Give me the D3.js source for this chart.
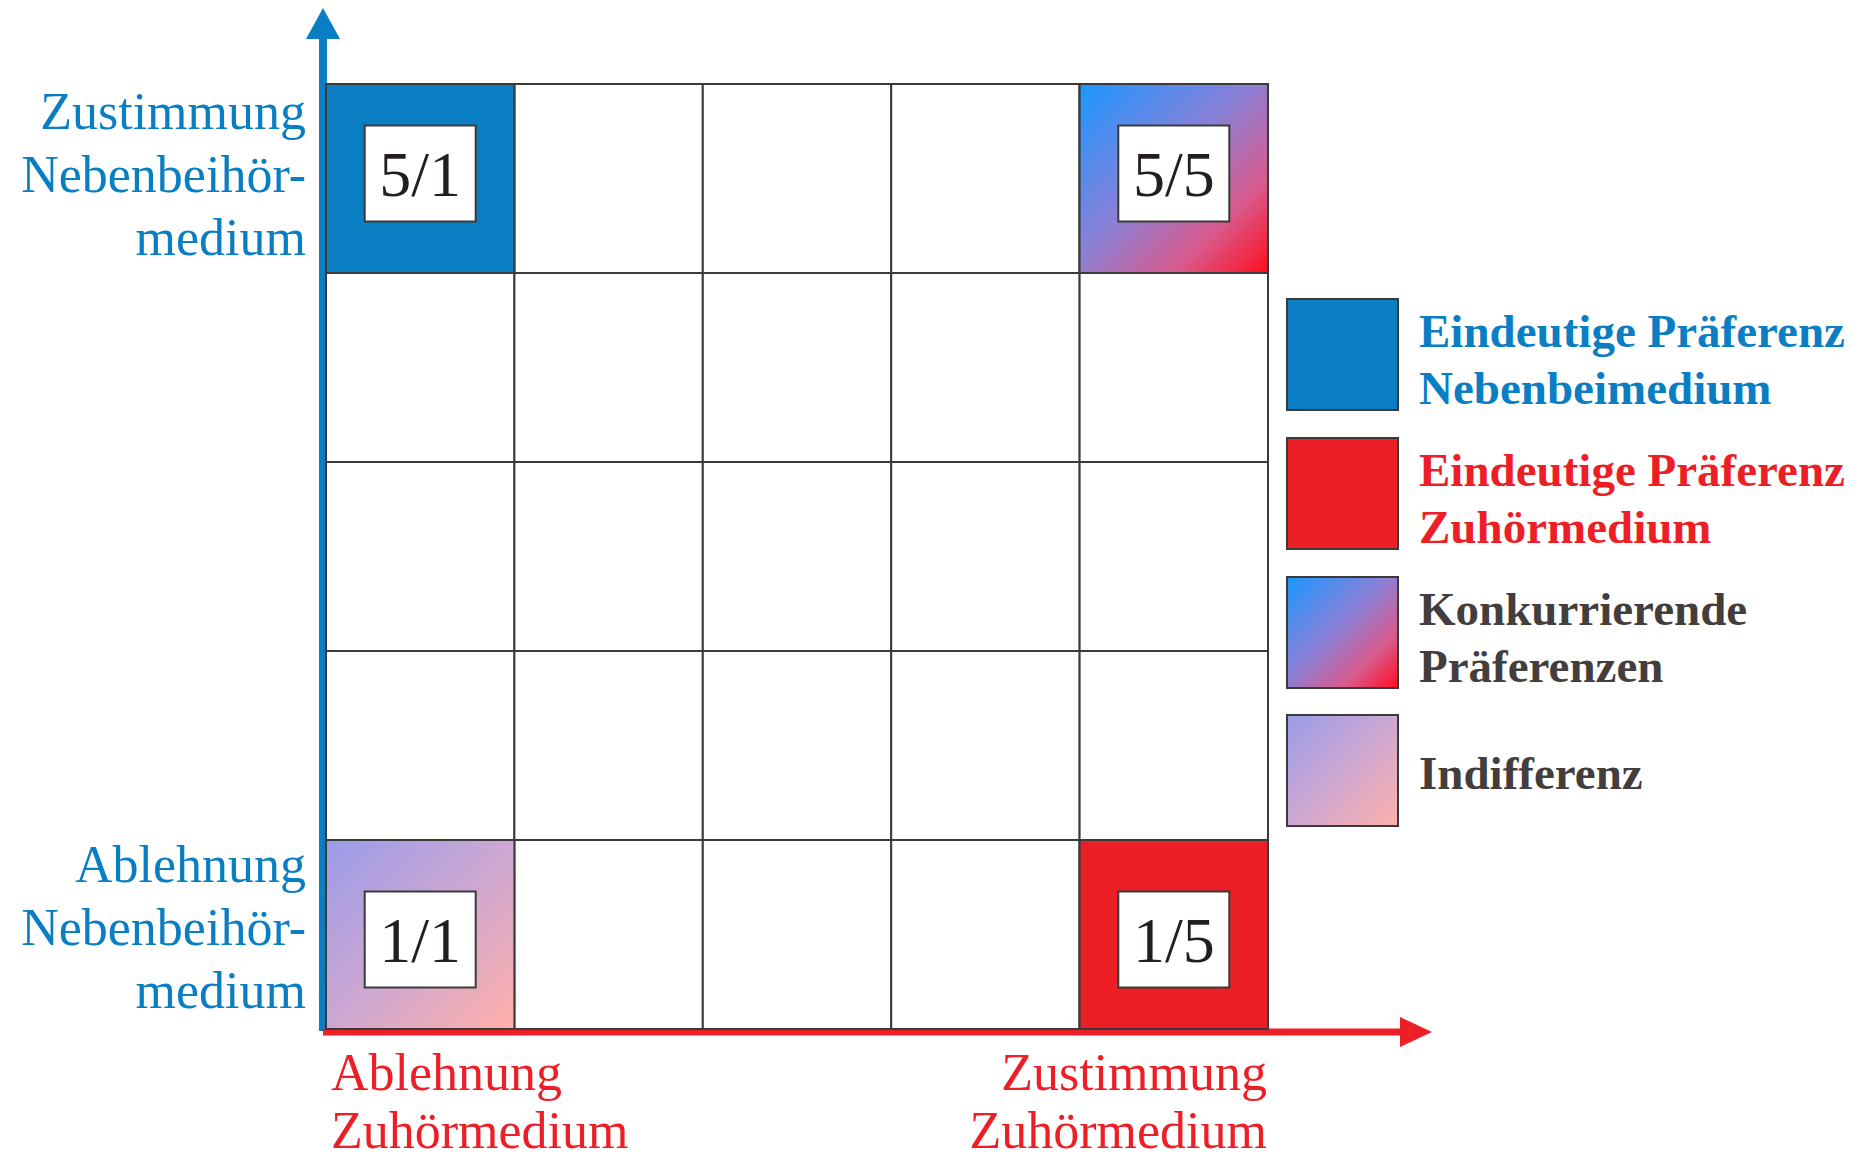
<!DOCTYPE html>
<html>
<head>
<meta charset="utf-8">
<script src="https://cdn.jsdelivr.net/npm/d3@7"></script>
<style>
  body { margin: 0; background: #fff; }
  svg text { font-family: "Liberation Serif", "Times New Roman", serif; }
</style>
</head>
<body>
<script>
// levels of agreement on both axes (1 = Ablehnung, 5 = Zustimmung)
const levels = [1, 2, 3, 4, 5];

// the four marked corner cells: x = Zuhörmedium, y = Nebenbeihörmedium
const cornerX = [1, 5, 1, 5];
const cornerY = [5, 5, 1, 1];
const cornerLabels = ['5/1', '5/5', '1/1', '1/5'];
const cornerKinds = ['blue', 'konk', 'indiff', 'red'];

// legend
const legendKinds = ['blue', 'red', 'konk', 'indiff'];
const legendLines = [
  ['Eindeutige Präferenz', 'Nebenbeimedium'],
  ['Eindeutige Präferenz', 'Zuhörmedium'],
  ['Konkurrierende', 'Präferenzen'],
  ['Indifferenz']
];

// axis end labels
const yTopLabel = ['Zustimmung', 'Nebenbeihör-', 'medium'];
const yBottomLabel = ['Ablehnung', 'Nebenbeihör-', 'medium'];
const xLeftLabel = ['Ablehnung', 'Zuhörmedium'];
const xRightLabel = ['Zustimmung', 'Zuhörmedium'];

const BLUE = '#0a7ec3';
const RED = '#ed1f26';
const GRID = '#3a3a3a';
const TXT = '#433e3b';

const W = 1874, H = 1161;
const svg = d3.select('body').append('svg')
    .attr('width', W)
    .attr('height', H);

const defs = svg.append('defs');
function grad(id, stops) {
  const g = defs.append('linearGradient')
      .attr('id', id)
      .attr('x1', 0).attr('y1', 0)
      .attr('x2', 1).attr('y2', 1);
  g.selectAll('stop')
      .data(stops)
      .enter()
    .append('stop')
      .attr('offset', d => d[0])
      .attr('stop-color', d => d[1]);
}
grad('g-konk', [[0, '#1b97ff'], [0.45, '#8a80d8'], [0.75, '#d95a8c'], [1, '#ff0d1d']]);
grad('g-indiff', [[0, '#9a9ce9'], [0.5, '#cda7d2'], [1, '#ffb0a9']]);

const fillOf = k => ({ blue: BLUE, red: RED, konk: 'url(#g-konk)', indiff: 'url(#g-indiff)' })[k];

const x = d3.scaleBand()
    .domain(levels)
    .range([326, 1268]);
const y = d3.scaleBand()
    .domain(levels.slice().reverse())
    .range([84, 1029]);

// grid cells
const cells = [];
levels.forEach(r => levels.forEach(c => cells.push({ r, c })));
svg.append('g').selectAll('rect')
    .data(cells)
    .enter()
  .append('rect')
    .attr('x', d => x(d.c))
    .attr('y', d => y(d.r))
    .attr('width', x.bandwidth())
    .attr('height', y.bandwidth())
    .attr('fill', '#fff')
    .attr('stroke', GRID)
    .attr('stroke-width', 2);

// corner cells
const corners = cornerLabels.map((l, i) => ({ label: l, c: cornerX[i], r: cornerY[i], kind: cornerKinds[i] }));
const cg = svg.append('g').selectAll('g')
    .data(corners)
    .enter()
  .append('g')
    .attr('transform', d => `translate(${x(d.c)},${y(d.r)})`);

cg.append('rect')
    .attr('width', x.bandwidth())
    .attr('height', y.bandwidth())
    .attr('fill', d => fillOf(d.kind))
    .attr('stroke', GRID)
    .attr('stroke-width', 2);

// inner label box sits a little high in the top row, a little low in the bottom row
const boxW = 111, boxH = 96;
const dy = d => d.r === 5 ? -5 : 5;
cg.append('rect')
    .attr('x', (x.bandwidth() - boxW) / 2)
    .attr('y', d => (y.bandwidth() - boxH) / 2 + dy(d))
    .attr('width', boxW)
    .attr('height', boxH)
    .attr('fill', '#fff')
    .attr('stroke', GRID)
    .attr('stroke-width', 2);

cg.append('text')
    .attr('x', x.bandwidth() / 2)
    .attr('y', d => y.bandwidth() / 2 + 22 + dy(d))
    .attr('text-anchor', 'middle')
    .attr('font-size', 64)
    .attr('fill', '#231f20')
    .text(d => d.label);

// axes with arrows
const x0 = x.range()[0], yB = y.range()[1];
svg.append('line')
    .attr('x1', x0 - 3).attr('x2', x0 - 3)
    .attr('y1', yB + 2).attr('y2', 36)
    .attr('stroke', BLUE)
    .attr('stroke-width', 8);
svg.append('path')
    .attr('d', `M${x0 - 3},8 L${x0 - 20},39 L${x0 + 14},39 Z`)
    .attr('fill', BLUE);

svg.append('line')
    .attr('x1', x0 - 3).attr('x2', 1404)
    .attr('y1', yB + 3).attr('y2', yB + 3)
    .attr('stroke', RED)
    .attr('stroke-width', 7);
svg.append('path')
    .attr('d', `M1432,${yB + 3} L1400,${yB - 12} L1400,${yB + 18} Z`)
    .attr('fill', RED);

// redraw grid border on top of the red axis line
svg.append('rect')
    .attr('x', x0)
    .attr('y', y.range()[0])
    .attr('width', x.range()[1] - x0)
    .attr('height', yB - y.range()[0])
    .attr('fill', 'none')
    .attr('stroke', GRID)
    .attr('stroke-width', 2);

// axis end labels
function lines(arr, px, py, anchor, color, lh) {
  svg.append('g').selectAll('text')
      .data(arr)
      .enter()
    .append('text')
      .attr('x', px)
      .attr('y', (d, i) => py + i * lh)
      .attr('text-anchor', anchor)
      .attr('font-size', 52)
      .attr('fill', color)
      .text(d => d);
}
lines(yTopLabel, 306, 129, 'end', BLUE, 63);
lines(yBottomLabel, 306, 882, 'end', BLUE, 63);
lines(xLeftLabel, 331, 1090, 'start', RED, 58);
lines(xRightLabel, 1267, 1090, 'end', RED, 58);

// legend
const lg = svg.append('g').selectAll('g')
    .data(legendKinds.map((k, i) => ({ kind: k, lines: legendLines[i] })))
    .enter()
  .append('g')
    .attr('transform', (d, i) => `translate(1287,${[299, 438, 577, 715][i]})`);

lg.append('rect')
    .attr('width', 111)
    .attr('height', 111)
    .attr('fill', d => fillOf(d.kind))
    .attr('stroke', GRID)
    .attr('stroke-width', 2);

const legendColor = { blue: BLUE, red: RED, konk: TXT, indiff: TXT };
lg.each(function(d) {
  const n = d.lines.length;
  d3.select(this).selectAll('text')
      .data(d.lines)
      .enter()
    .append('text')
      .attr('x', 132)
      .attr('y', (t, i) => n === 1 ? 74 : 48 + i * 57)
      .attr('font-size', 47)
      .attr('font-weight', 'bold')
      .attr('fill', legendColor[d.kind])
      .text(t => t);
});
</script>
</body>
</html>
